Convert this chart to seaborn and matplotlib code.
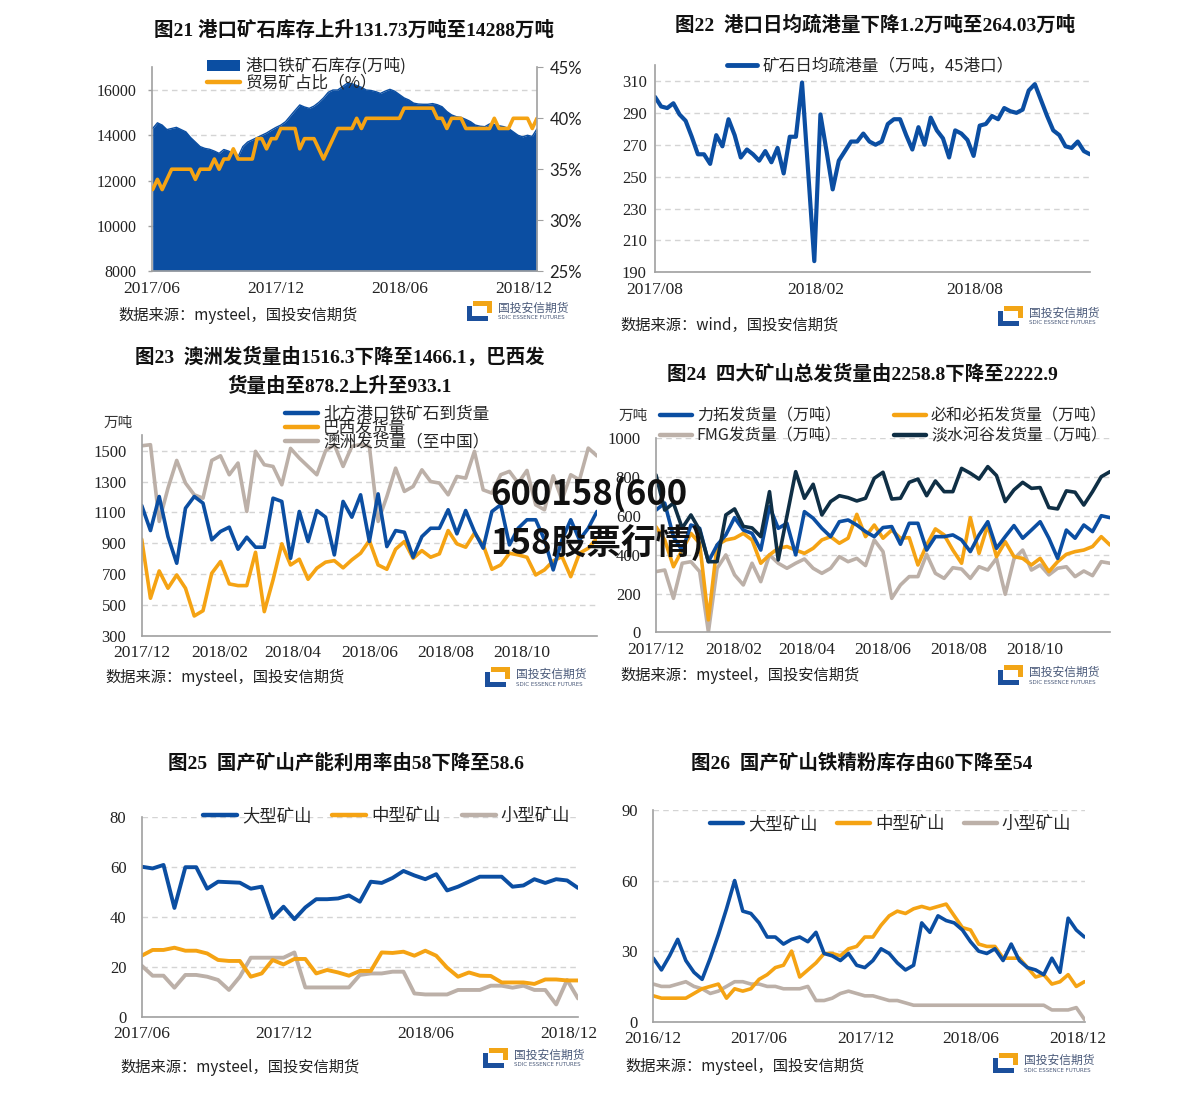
import pandas as pd
import matplotlib.pyplot as plt
import seaborn as sns
from matplotlib.patches import Patch, Rectangle
from matplotlib.lines import Line2D

sns.set_style('white')
plt.rcParams['font.family'] = ['Liberation Serif', 'Noto Sans CJK SC', 'DejaVu Sans']

BLUE = '#0b4ea2'
ORANGE = '#f5a313'
GRAY = '#bcb0a8'
NAVY = '#0f2f45'
SPINE = '#a0a0a0'
CJK = ['Noto Sans CJK SC', 'DejaVu Sans']
TITLE_FONT = ['Liberation Serif', 'Noto Sans CJK SC']

# ---- 图21 port inventory (weekly) ----
inv_stock = [14300, 14550, 14450, 14250, 14300, 14350, 14250, 14150, 13900, 13700,
             13500, 13420, 13380, 13300, 13200, 13370, 13300, 13200, 13050, 13500,
             13700, 13800, 13900, 14000, 14100, 14230, 14350, 14450, 14600, 14850,
             15100, 15340, 15250, 15190, 15290, 15450, 15650, 15900, 16000, 16000,
             16150, 16300, 16280, 16200, 16120, 16000, 15980, 15930, 15850, 15950,
             16030, 15950, 15800, 15650, 15560, 15420, 15380, 15370, 15370, 15400,
             15350, 15260, 15050, 14900, 14820, 14790, 14700, 14600, 14450, 14400,
             14380, 14500, 14480, 14420, 14380, 14300, 14150, 14000, 13930, 14000,
             13950, 14288]
trade_ratio = [33, 34, 33, 34, 35, 35, 35, 35, 35, 34,
               35, 35, 35, 36, 35, 36, 36, 37, 36, 36,
               36, 36, 38, 38, 37, 38, 38, 39, 39, 39,
               39, 37, 38, 38, 38, 37, 36, 37, 38, 39,
               39, 39, 39, 40, 39, 40, 40, 40, 40, 40,
               40, 40, 40, 41, 41, 41, 41, 41, 41, 41,
               40, 40, 39, 40, 40, 40, 39, 39, 39, 39,
               39, 39, 40, 39, 39, 39, 40, 40, 40, 40,
               39, 40]
dates21 = pd.date_range('2017-06-02', periods=len(inv_stock), freq='7D')

# ---- 图22 daily port clearance (weekly) ----
clearance = [300, 294, 293, 296, 289, 285, 275, 264, 264, 258,
             276, 269, 286, 276, 262, 267, 264, 260, 266, 259,
             268, 252, 275, 275, 309, 253, 197, 289, 266, 242,
             260, 266, 272, 272, 277, 272, 270, 272, 283, 286,
             286, 276, 267, 281, 270, 287, 279, 274, 262, 279,
             277, 273, 263, 282, 283, 288, 286, 293, 291, 290,
             292, 304, 308, 298, 288, 279, 276, 269, 268, 272,
             266, 264]
dates22 = pd.date_range('2017-08-01', periods=len(clearance), freq='7D')

# ---- 图23 arrivals / shipments (weekly) ----
north_arrival = [1145, 982, 1203, 943, 770, 1127, 1203, 1160, 922, 976,
                 1004, 861, 939, 874, 874, 1192, 1171, 802, 1106, 911,
                 1112, 1069, 824, 1171, 1069, 1214, 911, 1220, 878, 982,
                 971, 809, 943, 997, 997, 1117, 961, 1112, 976, 868,
                 1106, 1149, 889, 997, 1052, 1052, 922, 727, 922, 1052,
                 922, 997, 1106]
brazil_ship = [926, 543, 720, 608, 694, 608, 428, 462, 705, 781,
               636, 625, 625, 841, 456, 662, 896, 759, 796, 666,
               738, 777, 787, 740, 792, 835, 917, 759, 731, 861,
               911, 802, 852, 809, 831, 982, 896, 874, 965, 889,
               731, 759, 835, 824, 809, 694, 727, 785, 813, 683,
               835, 867, 933]
aus_ship = [1532, 1539, 1041, 1257, 1437, 1290, 1214, 1192, 1437, 1467,
            1344, 1420, 1106, 1496, 1409, 1398, 1279, 1515, 1452, 1398,
            1344, 1500, 1539, 1398, 1528, 1540, 1528, 1041, 1203, 1387,
            1236, 1268, 1376, 1300, 1290, 1214, 1333, 1322, 1496, 1246,
            1225, 1344, 1366, 1290, 1372, 1149, 1117, 1337, 1181, 1344,
            1311, 1517, 1466]
dates23 = pd.date_range('2017-12-01', periods=len(north_arrival), freq='7D')

# ---- 图24 four major miners (weekly) ----
rio = [630, 666, 493, 420, 553, 536, 364, 450, 502, 591,
       527, 510, 424, 648, 536, 562, 399, 622, 588, 536,
       493, 570, 579, 553, 519, 493, 540, 545, 454, 562,
       562, 424, 493, 493, 502, 476, 416, 502, 570, 433,
       493, 550, 485, 527, 570, 485, 381, 527, 485, 553,
       519, 601, 591]
bhp = [544, 476, 338, 424, 510, 459, 64, 450, 476, 485,
       510, 476, 356, 399, 433, 442, 424, 407, 433, 476,
       493, 459, 485, 608, 493, 553, 485, 527, 485, 488,
       347, 450, 533, 502, 424, 356, 591, 407, 553, 390,
       467, 390, 381, 347, 381, 313, 364, 402, 416, 424,
       442, 493, 450]
fmg = [313, 321, 175, 356, 364, 313, 2, 330, 399, 296,
       244, 356, 261, 399, 356, 330, 356, 378, 330, 304,
       330, 390, 364, 381, 344, 476, 416, 175, 244, 287,
       287, 402, 304, 278, 333, 326, 278, 338, 321, 381,
       196, 378, 424, 321, 347, 296, 330, 338, 287, 316,
       292, 364, 356]
vale = [811, 630, 666, 537, 605, 527, 364, 364, 605, 636,
        546, 538, 493, 725, 373, 600, 828, 691, 763, 605,
        674, 704, 694, 677, 691, 794, 825, 687, 691, 773,
        790, 704, 780, 725, 725, 845, 820, 790, 854, 808,
        674, 734, 773, 742, 746, 643, 636, 729, 722, 656,
        725, 802, 828]
dates24 = pd.date_range('2017-12-01', periods=len(rio), freq='7D')

# ---- 图25 domestic mine capacity utilisation ----
util_large = [60, 59.3, 60.7, 43.5, 59.8, 59.8, 51.2, 54, 53.8, 53.6,
              51.2, 52, 39.5, 44, 39, 43.7, 47, 47, 47.3, 48.5,
              46, 54, 53.5, 55.5, 58.3, 56.5, 55, 57, 50.5, 52,
              54, 56, 56, 56, 52, 52.5, 55, 53.5, 55, 54.5,
              51.5]
util_mid = [24.4, 26.7, 26.7, 27.6, 26.4, 26.4, 25.3, 22.7, 22.3, 22.3,
            16, 17.3, 22.7, 20.9, 23.1, 23.1, 17.3, 18.7, 17.7, 16.4,
            18.3, 18.3, 25.7, 25.5, 26, 24.4, 26.4, 24.4, 19.6, 16,
            17.7, 16.4, 16.3, 13.7, 13.7, 13.7, 13.1, 14.9, 14.9, 14.5,
            14.5]
util_small = [20.4, 16.4, 16.4, 11.6, 16.7, 16.7, 16, 14.7, 10.7, 16,
              23.6, 23.6, 23.6, 23.6, 25.7, 11.7, 11.7, 11.7, 11.7, 11.7,
              16.7, 17.3, 17.3, 18, 18, 9.3, 8.9, 8.9, 8.9, 10.7,
              10.7, 10.7, 12.4, 12.4, 11.6, 12.4, 10.7, 10.7, 4.9, 14.7,
              7.3]
dates25 = pd.date_range('2017-06-01', periods=len(util_large), freq='14D')

# ---- 图26 domestic concentrate inventory ----
conc_large = [27, 22, 28, 35, 26, 21, 18, 27, 37, 48,
              60, 47, 46, 42, 36, 36, 33, 35, 36, 34,
              38, 29, 28, 26, 29, 24, 23, 26, 31, 29,
              25, 22, 24, 42, 38, 45, 43, 42, 39, 34,
              30, 29, 31, 26, 33, 26, 23, 22, 20, 27,
              21, 44, 39, 36]
conc_mid = [11, 10, 10, 10, 10, 12, 14, 15, 16, 10,
            14, 13, 14, 18, 20, 23, 24, 30, 19, 22,
            25, 29, 29, 28, 31, 32, 36, 36, 41, 45,
            47, 46, 48, 49, 48, 49, 50, 45, 40, 39,
            33, 32, 32, 27, 27, 27, 23, 19, 20, 16,
            17, 20, 15, 17]
conc_small = [16, 15, 15, 16, 17, 15, 14, 12, 13, 15,
              17, 17, 16, 16, 15, 15, 14, 14, 14, 15,
              9, 9, 10, 12, 13, 12, 11, 11, 10, 9,
              9, 8, 7, 7, 7, 7, 7, 7, 7, 7,
              7, 7, 7, 7, 7, 7, 7, 7, 7, 5,
              5, 5, 6, 1]
dates26 = pd.date_range('2016-12-01', periods=len(conc_large), freq='14D')

W, H = 1191, 1095
fig = plt.figure(figsize=(W / 100, H / 100), dpi=100)


def add_ax(l, t, r, b):
    return fig.add_axes([l / W, 1 - b / H, (r - l) / W, (b - t) / H])


def style(ax, yticks, ylim, xticks, xlim, ypad=8):
    ax.set_ylim(*ylim)
    ax.set_yticks(yticks)
    ax.set_xlim(pd.Timestamp(xlim[0]), pd.Timestamp(xlim[1]))
    ax.set_xticks([pd.Timestamp(t.replace('/', '-') + '-01') for t in xticks])
    ax.set_xticklabels(xticks)
    ax.grid(axis='y', color='#d4d4d4', ls=(0, (4, 3)), lw=1)
    ax.grid(axis='x', visible=False)
    for s in ['top', 'right']:
        ax.spines[s].set_visible(False)
    for s in ['left', 'bottom']:
        ax.spines[s].set_color(SPINE)
        ax.spines[s].set_linewidth(1.2)
    ax.tick_params(axis='x', direction='out', length=4, width=1, color=SPINE,
                   labelsize=12.5, pad=3, labelcolor='#222')
    ax.tick_params(axis='y', direction='out', length=3, width=1, color=SPINE,
                   labelsize=12, pad=ypad, labelcolor='#222')
    ax.set_xlabel('')
    ax.set_ylabel('')


def legend(ax, handles, labels, x, y, ncol=1, size=12, spacing=0.0, colsp=1.2,
           hl=2.0, hh=0.7):
    ax.legend(handles, labels, loc='center left', bbox_to_anchor=(x / W, 1 - y / H),
              bbox_transform=fig.transFigure, frameon=False, ncol=ncol,
              prop={'family': CJK, 'size': size}, handlelength=hl, handleheight=hh,
              handletextpad=0.3, labelspacing=spacing, columnspacing=colsp,
              borderpad=0, borderaxespad=0)


def line(c, lw=3.2):
    return Line2D([], [], color=c, lw=lw)


def title(x, y, s):
    fig.text(x / W, 1 - y / H, s, ha='center', va='center', fontsize=14,
             fontweight='bold', family=TITLE_FONT, color='#111')


def source(x, y, s):
    fig.text(x / W, 1 - y / H, s, ha='left', va='center', fontsize=11,
             family=CJK, color='#222')


def logo(x, y):
    def rect(x0, y0, w, h, c):
        fig.patches.append(Rectangle((x0 / W, 1 - (y0 + h) / H), w / W, h / H,
                                     transform=fig.transFigure, color=c, lw=0))
    rect(x, y + 5, 5, 15, '#1b4f9c')
    rect(x, y + 15, 21, 5, '#1b4f9c')
    rect(x + 6, y, 19, 5, '#f2a516')
    rect(x + 20, y, 5, 12, '#f2a516')
    fig.text((x + 31) / W, 1 - (y + 7) / H, '国投安信期货', fontsize=8.5,
             family=CJK, color='#4a5a7a', va='center', ha='left')
    fig.text((x + 31) / W, 1 - (y + 17) / H, 'SDIC ESSENCE FUTURES', fontsize=4,
             family=['DejaVu Sans'], color='#4a5a7a', va='center', ha='left')


# ================= 图21 =================
ax1 = add_ax(152, 67.4, 537, 271)
ax1.fill_between(dates21, 8000, inv_stock, color=BLUE, lw=0)
sns.lineplot(x=dates21, y=inv_stock, ax=ax1, color=BLUE, lw=1)
style(ax1, range(8000, 16001, 2000), (8000, 17000),
      ['2017/06', '2017/12', '2018/06', '2018/12'], ('2017-06-01', '2018-12-21'))
ax1.tick_params(axis='y', labelsize=11.5)
ax1b = ax1.twinx()
sns.lineplot(x=dates21, y=trade_ratio, ax=ax1b, color=ORANGE, lw=2.6)
ax1b.set_ylim(25, 45)
ax1b.set_yticks(range(25, 46, 5))
ax1b.set_yticklabels([f'{v}%' for v in range(25, 46, 5)], family=['Lato', 'DejaVu Sans'])
ax1b.set_ylabel('')
for s in ['top', 'left', 'bottom']:
    ax1b.spines[s].set_visible(False)
ax1b.spines['right'].set_color(SPINE)
ax1b.spines['right'].set_linewidth(1.2)
ax1b.tick_params(axis='y', direction='out', length=4, color=SPINE, labelsize=12,
                 pad=5, labelcolor='#222')
legend(ax1b, [Patch(facecolor=BLUE, edgecolor='none'), line(ORANGE)],
       ['港口铁矿石库存(万吨)', '贸易矿占比（%）'], 207, 74.5, spacing=-0.05, hh=0.6)
title(354, 30, '图21 港口矿石库存上升131.73万吨至14288万吨')
source(118, 315, '数据来源：mysteel，国投安信期货')
logo(467, 301)

# ================= 图22 =================
ax2 = add_ax(655, 65, 1090, 272.3)
sns.lineplot(x=dates22, y=clearance, ax=ax2, color=BLUE, lw=3)
style(ax2, range(190, 311, 20), (190, 320),
      ['2017/08', '2018/02', '2018/08'], ('2017-08-01', '2018-12-11'), ypad=3)
legend(ax2, [line(BLUE, 3.5)], ['矿石日均疏港量（万吨，45港口）'], 727, 66, hl=1.8)
title(875, 25, '图22  港口日均疏港量下降1.2万吨至264.03万吨')
source(620, 325, '数据来源：wind，国投安信期货')
logo(998, 306)

# ================= 图23 =================
ax3 = add_ax(141.7, 435.3, 597, 635.7)
sns.lineplot(x=dates23, y=aus_ship, ax=ax3, color=GRAY, lw=2.6)
sns.lineplot(x=dates23, y=brazil_ship, ax=ax3, color=ORANGE, lw=2.6)
sns.lineplot(x=dates23, y=north_arrival, ax=ax3, color=BLUE, lw=2.6)
style(ax3, range(300, 1501, 200), (300, 1600),
      ['2017/12', '2018/02', '2018/04', '2018/06', '2018/08', '2018/10'],
      ('2017-12-01', '2018-11-30'))
legend(ax3, [line(BLUE), line(ORANGE), line(GRAY)],
       ['北方港口铁矿石到货量', '巴西发货量', '澳洲发货量（至中国）'], 285, 428, spacing=-0.18)
fig.text(118 / W, 1 - 423 / H, '万吨', fontsize=10.5, family=TITLE_FONT,
         color='#333', ha='center', va='center')
title(340, 357, '图23  澳洲发货量由1516.3下降至1466.1，巴西发')
title(340, 386, '货量由至878.2上升至933.1')
source(105, 677, '数据来源：mysteel，国投安信期货')
logo(485, 667)

# ================= 图24 =================
ax4 = add_ax(656, 438.3, 1110, 632.3)
sns.lineplot(x=dates24, y=fmg, ax=ax4, color=GRAY, lw=2.6)
sns.lineplot(x=dates24, y=bhp, ax=ax4, color=ORANGE, lw=2.6)
sns.lineplot(x=dates24, y=rio, ax=ax4, color=BLUE, lw=2.6)
sns.lineplot(x=dates24, y=vale, ax=ax4, color=NAVY, lw=2.6)
style(ax4, range(0, 1001, 200), (0, 1000),
      ['2017/12', '2018/02', '2018/04', '2018/06', '2018/08', '2018/10'],
      ('2017-12-01', '2018-11-30'))
legend(ax4, [line(BLUE), line(GRAY), line(ORANGE), line(NAVY)],
       ['力拓发货量（万吨）', 'FMG发货量（万吨）', '必和必拓发货量（万吨）', '淡水河谷发货量（万吨）'],
       660, 426, ncol=2, size=11.5, spacing=0.15, colsp=3.3)
fig.text(633 / W, 1 - 416 / H, '万吨', fontsize=10.5, family=TITLE_FONT,
         color='#333', ha='center', va='center')
title(862, 374, '图24  四大矿山总发货量由2258.8下降至2222.9')
source(620, 675, '数据来源：mysteel，国投安信期货')
logo(998, 665)

# ================= 图25 =================
ax5 = add_ax(141.7, 816.7, 578, 1016.7)
sns.lineplot(x=dates25, y=util_small, ax=ax5, color=GRAY, lw=2.8)
sns.lineplot(x=dates25, y=util_mid, ax=ax5, color=ORANGE, lw=2.8)
sns.lineplot(x=dates25, y=util_large, ax=ax5, color=BLUE, lw=2.8)
style(ax5, range(0, 81, 20), (0, 80),
      ['2017/06', '2017/12', '2018/06', '2018/12'], ('2017-06-01', '2018-12-13'))
legend(ax5, [line(BLUE), line(ORANGE), line(GRAY)], ['大型矿山', '中型矿山', '小型矿山'],
       203, 816, ncol=3, size=12.5, colsp=1.2, hl=1.95)
title(346, 763, '图25  国产矿山产能利用率由58下降至58.6')
source(120, 1067, '数据来源：mysteel，国投安信期货')
logo(483, 1048)

# ================= 图26 =================
ax6 = add_ax(653.3, 810, 1085, 1021.7)
sns.lineplot(x=dates26, y=conc_small, ax=ax6, color=GRAY, lw=2.6)
sns.lineplot(x=dates26, y=conc_mid, ax=ax6, color=ORANGE, lw=2.6)
sns.lineplot(x=dates26, y=conc_large, ax=ax6, color=BLUE, lw=2.6)
style(ax6, range(0, 91, 30), (0, 90),
      ['2016/12', '2017/06', '2017/12', '2018/06', '2018/12'], ('2016-12-01', '2018-12-14'))
legend(ax6, [line(BLUE), line(ORANGE), line(GRAY)], ['大型矿山', '中型矿山', '小型矿山'],
       710, 824, ncol=3, size=12.5, colsp=1.1, hl=1.9)
title(862, 763, '图26  国产矿山铁精粉库存由60下降至54')
source(625, 1066, '数据来源：mysteel，国投安信期货')
logo(993, 1053)

# watermark text overlaid on the page
fig.text(490 / W, 1 - 494 / H, '600158(600', fontsize=25, fontweight='bold',
         family=CJK, color='#111', ha='left', va='center', zorder=10)
fig.text(490 / W, 1 - 543 / H, '158股票行情)', fontsize=25, fontweight='bold',
         family=CJK, color='#111', ha='left', va='center', zorder=10)

fig.savefig('out.png', dpi=100, facecolor='white')
